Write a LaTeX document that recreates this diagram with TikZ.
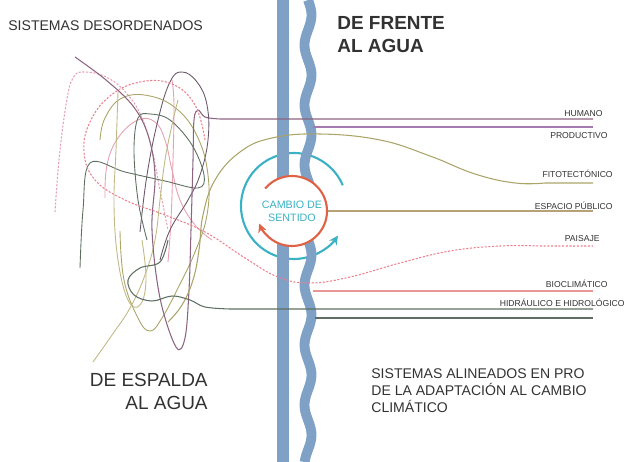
\documentclass[tikz,border=0pt]{standalone}
\usepackage{fontspec}
\setmainfont{Liberation Sans}
\usetikzlibrary{arrows.meta}

\definecolor{barblue}{RGB}{128,161,198}
\definecolor{turnteal}{RGB}{58,178,196}
\definecolor{turnred}{RGB}{224,98,68}
\definecolor{mauveline}{RGB}{140,100,128}
\definecolor{plumline}{RGB}{105,88,105}
\definecolor{violetline}{RGB}{165,122,176}
\definecolor{oliveline}{RGB}{170,164,104}
\definecolor{khakiline}{RGB}{192,184,132}
\definecolor{tanline}{RGB}{182,162,118}
\definecolor{pinkline}{RGB}{230,160,178}
\definecolor{salmonline}{RGB}{234,150,150}
\definecolor{greenline}{RGB}{94,110,96}
\definecolor{textgrey}{RGB}{50,50,50}

\begin{document}
\begin{tikzpicture}[x=0.02cm, y=-0.02cm,
    every node/.style={inner sep=0pt, text=textgrey},
    tangle/.style={line width=0.5pt},
    dotline/.style={line width=0.6pt, dash pattern=on 1.2pt off 0.9pt},
    rightline/.style={line width=0.6pt},
    bar/.style={draw=barblue},
    tag/.style={anchor=base east, font=\fontsize{4.9pt}{6pt}\selectfont},
    title/.style={font=\fontsize{8pt}{9.7pt}\selectfont},
    bigtitle/.style={font=\fontsize{10.8pt}{13pt}\selectfont}]
    \path[use as bounding box] (0,0) rectangle (632,462);

    % turning circle (outer)
    \draw[turnteal, line width=1.2pt, -{Stealth[length=5pt, width=5pt]}]
        (294,206) ++(-23:53) arc[start angle=-23, end angle=-326, radius=53];

    % river bars
    \draw[bar, line width=6.3pt] (283,0) -- (283,462);
    \draw[bar, line width=5.6pt] plot[domain=0:462, samples=140, smooth] ({308+3.5*sin(6*\x)}, \x);

    % titles
    \node[title, anchor=north west] (desorden) at (8,20) {SISTEMAS DESORDENADOS};
    \node[bigtitle, anchor=north west, align=left, font=\bfseries\fontsize{10.8pt}{13pt}\selectfont] (frente) at (337,16) {DE FRENTE\\AL AGUA};
    \node[bigtitle, anchor=north east, align=right] (espalda) at (208,373) {DE ESPALDA\\AL AGUA};
    \node[title, anchor=north west, align=left] (alineados) at (371,368) {SISTEMAS ALINEADOS EN PRO\\DE LA ADAPTACIÓN AL CAMBIO\\CLIMÁTICO};

    % system labels
    \node[tag] (humano) at (603,117) {HUMANO};
    \node[tag] (productivo) at (608,139) {PRODUCTIVO};
    \node[tag] (fito) at (613,178) {FITOTECTÓNICO};
    \node[tag] (espacio) at (613,210) {ESPACIO PÚBLICO};
    \node[tag] (paisaje) at (600,242) {PAISAJE};
    \node[tag] (bioclima) at (608,288) {BIOCLIMÁTICO};
    \node[tag] (hidro) at (625,307) {HIDRÁULICO E HIDROLÓGICO};

    \coordinate (humano-end) at (593,119);
    \coordinate (prod-start) at (313,127);
    \coordinate (prod-end) at (593,127);
    \coordinate (fito-end) at (593,183);
    \coordinate (espacio-end) at (593,211);
    \coordinate (paisaje-end) at (593,246);
    \coordinate (bio-start) at (313,291);
    \coordinate (bio-end) at (593,291);
    \coordinate (hidro-end) at (593,309);
    \coordinate (hidro2-start) at (315,318);
    \coordinate (hidro2-end) at (593,318);

    % tangled systems
    \draw[pinkline, dotline] plot[smooth, tension=0.7] coordinates {(55,212) (59,160) (66,105) (73,78) (85,72) (108,78) (128,95) (142,118) (152,150) (160,190) (168,230)};
    \draw[pinkline, tangle] plot[smooth, tension=0.7] coordinates {(105,198) (107,165) (118,138) (138,120) (155,122) (165,140) (172,170) (180,200) (195,225) (212,240)};
    \draw[pinkline, tangle] plot[smooth, tension=0.7] coordinates {(168,262) (171,220) (173,160) (174,105) (172,80)};
    \draw[plumline, tangle] plot[smooth, tension=0.7] coordinates {(140,232) (147,175) (158,120) (170,82) (182,72) (197,82) (207,105) (208,140) (200,175) (188,200) (170,230) (160,260)};
    \draw[greenline, tangle] plot[smooth, tension=0.6] coordinates {(80,268) (83,210) (90,163) (125,172) (165,181) (198,188) (204,175) (192,145) (170,120) (150,114) (138,118) (134,150) (138,200) (147,240)};
    \draw[oliveline, tangle] plot[smooth, tension=0.7] coordinates {(120,231) (124,280) (138,318) (150,331) (162,318) (178,288) (195,252) (207,215) (208,175) (198,138) (178,110) (150,96) (122,98) (105,118) (100,140)};
    \draw[khakiline, tangle] plot[smooth, tension=0.7] coordinates {(93,362) (112,335) (130,308) (145,275) (155,240) (160,200) (165,160) (172,125) (178,100)};
    \draw[khakiline, tangle] plot[smooth, tension=0.7] coordinates {(118,92) (116,150) (114,205) (118,260) (128,300) (140,305) (146,280) (142,240)};

    % systems leaving the tangle
    \draw[mauveline, rightline] plot[smooth, tension=0.6] coordinates {(75,57) (106,80) (133,106) (148,135) (155,175) (152,230) (160,298) (176,347) (185,338) (189,290) (191,230) (193,160) (194,120) (198,110) (205,117) (220,119)} -- (humano-end);
    \draw[oliveline, rightline] plot[smooth, tension=0.7] coordinates {(168,322) (182,305) (193,280) (199,250) (203,215) (215,180) (240,152) (272,138) (320,134) (380,140) (430,156) (475,174) (515,183) (545,183)} -- (fito-end);
    \draw[pinkline!80!red, dotline] plot[smooth, tension=0.7] coordinates {(205,140) (195,105) (172,84) (140,82) (110,96) (90,122) (84,152) (95,180) (125,200) (165,215) (205,232) (245,258) (278,277) (310,283) (350,277) (400,263) (450,251) (500,246) (540,246)} -- (paisaje-end);
    \draw[greenline, rightline] plot[smooth, tension=0.6] coordinates {(168,240) (160,262) (140,268) (128,280) (134,295) (152,301) (172,296) (190,300) (205,307) (230,309)} -- (hidro-end);

    % systems already aligned
    \draw[violetline, rightline] (prod-start) -- (prod-end);
    \draw[salmonline, rightline] (bio-start) -- (bio-end);
    \draw[greenline, rightline] (hidro2-start) -- (hidro2-end);

    % turning circle (inner)
    \node[circle, fill=white, minimum size=1.4cm, align=center, text=turnteal,
        font=\fontsize{6.1pt}{7.4pt}\selectfont] (cambio) at (292,211) {CAMBIO DE\\SENTIDO};
    \draw[tanline, rightline] (cambio.east) -- (espacio-end);
    \draw[turnred, line width=1.2pt, -{Stealth[length=5pt, width=5pt]}]
        (cambio.center) ++(-140:35) arc[start angle=-140, end angle=159, radius=35];
\end{tikzpicture}
\end{document}
